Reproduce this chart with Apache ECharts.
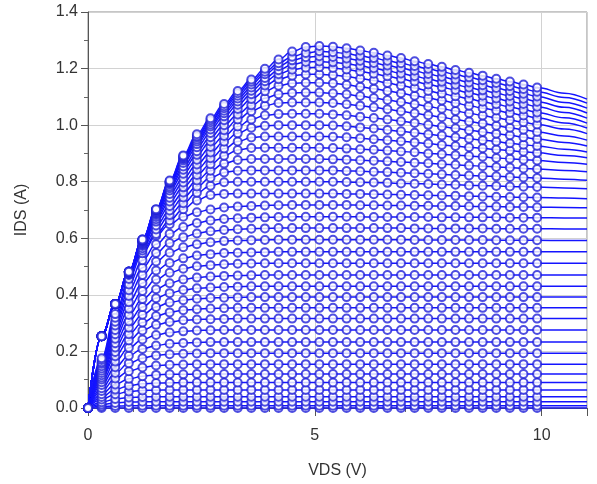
<!DOCTYPE html>
<html><head><meta charset="utf-8">
<script src="https://cdn.jsdelivr.net/npm/echarts@6/dist/echarts.min.js"></script>
<style>html,body{margin:0;padding:0;background:#fff}#c{width:597px;height:484px}</style>
</head><body><div id="c"></div>
<script>
// VDS sweep (V): measured points every 0.3 V up to 9.9 V, model lines continue to 11 V
const vds = [0,0.3,0.6,0.9,1.2,1.5,1.8,2.1,2.4,2.7,3.0,3.3,3.6,3.9,4.2,4.5,4.8,5.1,5.4,5.7,6.0,6.3,6.6,6.9,7.2,7.5,7.8,8.1,8.4,8.7,9.0,9.3,9.6,9.9,10.5,11];
const measuredCount = 34;
const xRange = [0, 11];
const yRange = [0, 1.4];
const xTickStep = 5;
const yTickStep = 0.2;
const xTickLabels = ['0','5','10'];
const yTickLabels = ['0.0','0.2','0.4','0.6','0.8','1.0','1.2','1.4'];
// IDS (A) for each VGS step, bottom curve first
const ids = [
[0,0,0,0,0,0, 0,0,0,0,0,0, 0,0,0,0,0,0, 0,0,0,0,0,0, 0,0,0,0,0,0, 0,0,0,0,0,0],
[0,0.005,0.007,0.008,0.008,0.008, 0.008,0.008,0.008,0.008,0.008,0.008, 0.008,0.008,0.008,0.008,0.008,0.008, 0.008,0.008,0.008,0.008,0.008,0.008, 0.008,0.008,0.008,0.008,0.008,0.008, 0.008,0.008,0.008,0.008,0.008,0.008],
[0,0.012,0.018,0.021,0.022,0.022, 0.022,0.022,0.022,0.022,0.022,0.022, 0.022,0.022,0.022,0.022,0.022,0.022, 0.022,0.022,0.022,0.022,0.022,0.022, 0.022,0.022,0.022,0.022,0.022,0.022, 0.022,0.022,0.022,0.022,0.022,0.022],
[0,0.020,0.032,0.037,0.039,0.040, 0.040,0.040,0.040,0.040,0.040,0.040, 0.040,0.040,0.040,0.040,0.040,0.040, 0.040,0.040,0.040,0.040,0.040,0.040, 0.040,0.040,0.040,0.040,0.040,0.040, 0.040,0.040,0.040,0.040,0.040,0.040],
[0,0.030,0.049,0.058,0.062,0.063, 0.064,0.064,0.064,0.064,0.064,0.064, 0.064,0.064,0.064,0.064,0.064,0.064, 0.064,0.064,0.064,0.064,0.064,0.064, 0.064,0.064,0.064,0.064,0.064,0.064, 0.064,0.064,0.064,0.064,0.064,0.064],
[0,0.039,0.065,0.079,0.086,0.088, 0.089,0.090,0.090,0.090,0.090,0.090, 0.090,0.090,0.090,0.090,0.090,0.090, 0.090,0.090,0.090,0.090,0.090,0.090, 0.090,0.090,0.090,0.090,0.090,0.090, 0.090,0.090,0.090,0.090,0.090,0.090],
[0,0.049,0.083,0.103,0.112,0.117, 0.119,0.119,0.120,0.120,0.120,0.120, 0.120,0.120,0.120,0.120,0.120,0.120, 0.120,0.120,0.120,0.120,0.120,0.120, 0.120,0.120,0.120,0.120,0.120,0.120, 0.120,0.120,0.120,0.120,0.120,0.120],
[0,0.060,0.104,0.130,0.143,0.150, 0.153,0.154,0.155,0.155,0.155,0.155, 0.155,0.155,0.155,0.155,0.155,0.155, 0.155,0.155,0.155,0.155,0.155,0.155, 0.155,0.155,0.155,0.155,0.155,0.155, 0.155,0.155,0.155,0.155,0.155,0.155],
[0,0.070,0.124,0.158,0.176,0.186, 0.190,0.192,0.193,0.194,0.194,0.194, 0.194,0.194,0.194,0.194,0.194,0.194, 0.194,0.194,0.194,0.194,0.194,0.194, 0.194,0.194,0.194,0.194,0.194,0.194, 0.194,0.194,0.194,0.194,0.194,0.194],
[0,0.081,0.144,0.185,0.209,0.221, 0.227,0.230,0.232,0.233,0.233,0.233, 0.233,0.233,0.233,0.233,0.233,0.233, 0.233,0.233,0.233,0.233,0.233,0.233, 0.233,0.233,0.233,0.233,0.233,0.233, 0.233,0.233,0.233,0.233,0.233,0.233],
[0,0.091,0.164,0.213,0.242,0.258, 0.267,0.271,0.274,0.275,0.276,0.276, 0.276,0.276,0.276,0.276,0.276,0.276, 0.276,0.276,0.276,0.276,0.276,0.276, 0.276,0.276,0.276,0.276,0.276,0.276, 0.276,0.276,0.276,0.276,0.276,0.276],
[0,0.101,0.183,0.239,0.274,0.294, 0.304,0.310,0.313,0.314,0.315,0.316, 0.316,0.316,0.316,0.316,0.316,0.316, 0.316,0.316,0.316,0.316,0.316,0.316, 0.316,0.316,0.316,0.316,0.316,0.316, 0.316,0.316,0.316,0.316,0.316,0.316],
[0,0.108,0.198,0.261,0.302,0.325, 0.338,0.346,0.349,0.352,0.353,0.354, 0.354,0.354,0.354,0.354,0.354,0.354, 0.354,0.354,0.354,0.354,0.354,0.354, 0.354,0.354,0.354,0.354,0.354,0.354, 0.354,0.354,0.354,0.354,0.354,0.354],
[0,0.116,0.214,0.284,0.330,0.357, 0.373,0.381,0.386,0.389,0.390,0.391, 0.392,0.392,0.392,0.392,0.392,0.392, 0.392,0.392,0.392,0.392,0.392,0.392, 0.392,0.392,0.392,0.392,0.392,0.392, 0.392,0.392,0.392,0.392,0.392,0.392],
[0,0.124,0.229,0.306,0.357,0.388, 0.406,0.417,0.423,0.426,0.428,0.429, 0.430,0.430,0.430,0.430,0.430,0.430, 0.430,0.430,0.430,0.430,0.430,0.430, 0.430,0.430,0.430,0.430,0.430,0.430, 0.430,0.430,0.430,0.430,0.430,0.430],
[0,0.132,0.245,0.329,0.385,0.420, 0.441,0.454,0.461,0.465,0.467,0.468, 0.469,0.470,0.470,0.470,0.470,0.470, 0.470,0.470,0.470,0.470,0.470,0.470, 0.470,0.470,0.470,0.470,0.470,0.470, 0.470,0.470,0.470,0.470,0.470,0.470],
[0,0.140,0.261,0.351,0.414,0.454, 0.478,0.492,0.501,0.505,0.508,0.510, 0.511,0.512,0.512,0.512,0.512,0.512, 0.512,0.512,0.512,0.512,0.512,0.512, 0.512,0.512,0.512,0.512,0.512,0.512, 0.512,0.512,0.512,0.512,0.512,0.512],
[0,0.148,0.276,0.374,0.442,0.486, 0.513,0.529,0.539,0.544,0.548,0.549, 0.550,0.551,0.552,0.552,0.552,0.552, 0.552,0.552,0.552,0.552,0.552,0.552, 0.552,0.552,0.552,0.552,0.552,0.552, 0.552,0.552,0.552,0.552,0.552,0.552],
[0,0.156,0.292,0.396,0.470,0.518, 0.549,0.568,0.579,0.586,0.590,0.592, 0.593,0.594,0.595,0.595,0.595,0.595, 0.595,0.595,0.595,0.595,0.595,0.595, 0.594,0.594,0.594,0.594,0.594,0.594, 0.593,0.593,0.593,0.593,0.592,0.592],
[0,0.162,0.305,0.416,0.496,0.548, 0.583,0.604,0.617,0.625,0.629,0.632, 0.634,0.635,0.636,0.636,0.636,0.636, 0.636,0.636,0.636,0.636,0.636,0.636, 0.635,0.635,0.635,0.635,0.635,0.635, 0.634,0.634,0.634,0.634,0.633,0.633],
[0,0.170,0.319,0.437,0.522,0.579, 0.616,0.640,0.654,0.663,0.668,0.671, 0.673,0.674,0.675,0.676,0.676,0.676, 0.676,0.676,0.676,0.675,0.675,0.675, 0.675,0.675,0.674,0.674,0.674,0.674, 0.674,0.673,0.673,0.673,0.672,0.672],
[0,0.176,0.332,0.456,0.547,0.609, 0.650,0.676,0.692,0.702,0.709,0.712, 0.714,0.716,0.717,0.718,0.718,0.718, 0.718,0.718,0.717,0.717,0.716,0.716, 0.715,0.715,0.714,0.714,0.713,0.712, 0.712,0.711,0.711,0.710,0.709,0.708],
[0,0.254,0.367,0.470,0.557,0.615, 0.663,0.703,0.734,0.753,0.757,0.758, 0.758,0.758,0.758,0.758,0.758,0.758, 0.758,0.757,0.757,0.756,0.755,0.754, 0.753,0.752,0.751,0.750,0.749,0.748, 0.747,0.746,0.745,0.744,0.742,0.740],
[0,0.254,0.367,0.474,0.565,0.631, 0.682,0.724,0.761,0.786,0.798,0.800, 0.800,0.800,0.800,0.800,0.800,0.800, 0.800,0.799,0.798,0.797,0.796,0.794, 0.793,0.792,0.790,0.789,0.787,0.786, 0.785,0.783,0.782,0.781,0.778,0.775],
[0,0.254,0.368,0.475,0.573,0.645, 0.698,0.744,0.783,0.814,0.833,0.839, 0.840,0.840,0.840,0.840,0.840,0.840, 0.840,0.838,0.837,0.835,0.834,0.832, 0.830,0.828,0.826,0.824,0.822,0.820, 0.819,0.817,0.815,0.813,0.809,0.805],
[0,0.254,0.368,0.477,0.577,0.659, 0.714,0.762,0.804,0.839,0.864,0.877, 0.880,0.880,0.880,0.880,0.880,0.880, 0.879,0.878,0.876,0.874,0.872,0.870, 0.867,0.865,0.862,0.860,0.857,0.855, 0.852,0.850,0.847,0.845,0.840,0.835],
[0,0.254,0.368,0.479,0.580,0.667, 0.730,0.780,0.824,0.862,0.892,0.912, 0.919,0.920,0.920,0.920,0.920,0.920, 0.919,0.917,0.915,0.913,0.910,0.907, 0.904,0.900,0.897,0.894,0.891,0.888, 0.884,0.881,0.878,0.875,0.868,0.862],
[0,0.254,0.368,0.480,0.583,0.675, 0.743,0.797,0.843,0.883,0.917,0.942, 0.956,0.960,0.960,0.960,0.960,0.960, 0.959,0.957,0.954,0.950,0.947,0.943, 0.939,0.935,0.930,0.926,0.922,0.918, 0.914,0.910,0.906,0.902,0.893,0.885],
[0,0.254,0.368,0.482,0.586,0.682, 0.757,0.812,0.861,0.903,0.941,0.971, 0.991,0.998,1.000,1.000,1.000,1.000, 0.999,0.996,0.992,0.988,0.983,0.978, 0.973,0.968,0.963,0.957,0.952,0.947, 0.942,0.936,0.931,0.926,0.915,0.905],
[0,0.254,0.368,0.482,0.588,0.687, 0.769,0.828,0.878,0.923,0.962,0.995, 1.020,1.035,1.039,1.040,1.040,1.040, 1.038,1.035,1.030,1.025,1.020,1.014, 1.008,1.001,0.995,0.989,0.982,0.976, 0.970,0.964,0.957,0.951,0.939,0.926],
[0,0.254,0.368,0.482,0.590,0.689, 0.777,0.842,0.895,0.942,0.982,1.020, 1.049,1.069,1.078,1.080,1.080,1.080, 1.078,1.074,1.069,1.063,1.056,1.049, 1.042,1.035,1.028,1.020,1.013,1.006, 0.998,0.991,0.984,0.976,0.962,0.947],
[0,0.254,0.368,0.482,0.591,0.693, 0.783,0.854,0.908,0.957,1.000,1.038, 1.070,1.095,1.109,1.114,1.115,1.115, 1.113,1.109,1.103,1.096,1.089,1.082, 1.074,1.066,1.058,1.050,1.042,1.034, 1.026,1.018,1.010,1.002,0.986,0.970],
[0,0.254,0.368,0.482,0.592,0.695, 0.790,0.866,0.922,0.972,1.017,1.057, 1.092,1.120,1.139,1.148,1.150,1.150, 1.148,1.143,1.136,1.129,1.121,1.113, 1.104,1.096,1.087,1.078,1.069,1.060, 1.052,1.043,1.034,1.025,1.008,0.990],
[0,0.254,0.368,0.482,0.593,0.698, 0.795,0.875,0.933,0.985,1.031,1.072, 1.109,1.140,1.162,1.175,1.179,1.180, 1.177,1.172,1.165,1.158,1.149,1.140, 1.131,1.121,1.112,1.102,1.093,1.083, 1.074,1.064,1.055,1.045,1.026,1.007],
[0,0.254,0.368,0.482,0.594,0.699, 0.797,0.880,0.942,0.995,1.042,1.084, 1.122,1.155,1.180,1.196,1.203,1.205, 1.202,1.197,1.190,1.182,1.173,1.164, 1.154,1.144,1.134,1.124,1.114,1.104, 1.094,1.084,1.075,1.065,1.045,1.025],
[0,0.254,0.368,0.482,0.594,0.700, 0.798,0.883,0.949,1.002,1.051,1.094, 1.133,1.167,1.194,1.214,1.223,1.225, 1.222,1.217,1.210,1.201,1.192,1.183, 1.173,1.163,1.153,1.143,1.133,1.123, 1.113,1.103,1.093,1.083,1.063,1.043],
[0,0.254,0.368,0.482,0.595,0.701, 0.800,0.887,0.956,1.010,1.060,1.104, 1.144,1.180,1.208,1.229,1.240,1.244, 1.241,1.236,1.228,1.220,1.211,1.202, 1.192,1.181,1.171,1.161,1.151,1.141, 1.131,1.121,1.111,1.101,1.080,1.060],
[0,0.254,0.368,0.482,0.596,0.701, 0.801,0.890,0.961,1.017,1.067,1.113, 1.153,1.189,1.219,1.242,1.255,1.261, 1.258,1.253,1.245,1.237,1.228,1.219, 1.209,1.199,1.189,1.179,1.169,1.159, 1.149,1.138,1.128,1.118,1.098,1.078],
[0,0.254,0.368,0.482,0.596,0.703, 0.804,0.893,0.968,1.024,1.075,1.121, 1.161,1.199,1.232,1.260,1.276,1.280, 1.277,1.272,1.264,1.256,1.246,1.237, 1.226,1.216,1.206,1.195,1.185,1.175, 1.164,1.154,1.144,1.133,1.113,1.092]
];

const FONT = '"Liberation Sans", Arial, Helvetica, sans-serif';
const lineColor = '#1414ff';
const markColor = '#2020d8';

const series = [];
ids.forEach(function (row, k) {
  series.push({
    type: 'line', name: 'model' + k,
    data: row.map(function (v, i) { return [vds[i], v]; }),
    showSymbol: false, symbol: 'none',
    smooth: 0.4, smoothMonotone: 'x',
    lineStyle: { color: lineColor, width: 1.5 },
    silent: true, z: 2, animation: false
  });
});
const points = [];
ids.forEach(function (row) {
  for (let i = 0; i < measuredCount; i++) points.push([vds[i], row[i]]);
});
series.push({
  type: 'scatter', name: 'measured', data: points,
  symbol: 'emptyCircle', symbolSize: 8,
  itemStyle: { color: markColor, borderColor: markColor, borderWidth: 1.7 },
  silent: true, z: 3, animation: false
});

const chart = echarts.init(document.getElementById('c'), null, { renderer: 'canvas' });
chart.setOption({
  animation: false,
  backgroundColor: '#fff',
  grid: { left: 88, right: 10, top: 12, bottom: 76, show: true, borderColor: '#8c8c8c', borderWidth: 1 },
  xAxis: {
    type: 'value', min: xRange[0], max: xRange[1], interval: xTickStep,
    axisLine: { show: true, onZero: false, lineStyle: { color: '#555', width: 1 } },
    axisTick: { show: true, length: 8, lineStyle: { color: '#555' } },
    minorTick: { show: true, splitNumber: 5, length: 4, lineStyle: { color: '#666' } },
    axisLabel: { color: '#333', fontSize: 16, fontFamily: FONT, margin: 20, showMaxLabel: false,
      formatter: function (v) { const i = Math.round(v / xTickStep); return xTickLabels[i] !== undefined ? xTickLabels[i] : ''; } },
    splitLine: { show: true, lineStyle: { color: '#d2d2d2', width: 1 } },
    name: 'VDS (V)', nameLocation: 'middle', nameGap: 55,
    nameTextStyle: { color: '#333', fontSize: 16, fontFamily: FONT }
  },
  yAxis: {
    type: 'value', min: yRange[0], max: yRange[1], interval: yTickStep,
    axisLine: { show: true, onZero: false, lineStyle: { color: '#555', width: 1 } },
    axisTick: { show: true, length: 7, lineStyle: { color: '#555' } },
    minorTick: { show: true, splitNumber: 2, length: 4, lineStyle: { color: '#666' } },
    axisLabel: { color: '#333', fontSize: 16, fontFamily: FONT, margin: 10,
      formatter: function (v) { return yTickLabels[Math.round(v / yTickStep)] || v.toFixed(1); } },
    splitLine: { show: true, lineStyle: { color: '#d2d2d2', width: 1 } },
    name: 'IDS (A)', nameLocation: 'middle', nameGap: 58,
    nameTextStyle: { color: '#333', fontSize: 16, fontFamily: FONT }
  },
  series: series
});
</script>
</body></html>
